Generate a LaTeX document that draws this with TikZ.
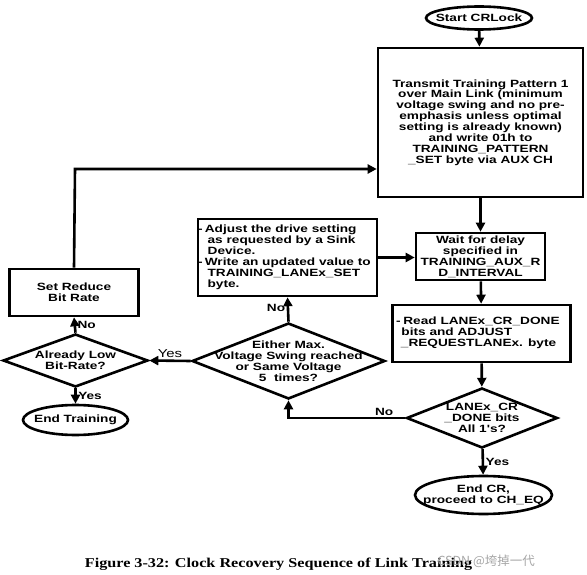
\documentclass[tikz,border=0pt]{standalone}
\usepackage{fontspec}
\usetikzlibrary{arrows.meta,shapes.geometric}
\newfontfamily\flab{Liberation Sans}[FakeStretch=1.3]
\newfontfamily\fcap{Liberation Serif}[FakeStretch=1.2]
\newfontfamily\fcjk{Noto Sans CJK SC}
\begin{document}
\begin{tikzpicture}[x=1pt,y=-1pt,
  every node/.style={font=\flab\bfseries\fontsize{10.5}{10.9}\selectfont},
  box/.style={draw,line width=2.6pt,inner sep=0pt,align=center},
  dia/.style={draw,diamond,line width=2.6pt,inner sep=0pt},
  oval/.style={draw,ellipse,line width=2.6pt,inner sep=0pt},
  txt/.style={inner sep=0pt,align=center},
  lab/.style={inner sep=1.5pt},
  arr/.style={line width=2.6pt,-{Triangle[length=9pt,width=9pt]}},
  ln/.style={line width=2.6pt}]
\useasboundingbox (0,0) rectangle (587,575);
% nodes
\node[oval,minimum width=106,minimum height=23] (start) at (479,18) {};
\node[txt] at (start) {Start CRLock};
\node[box,minimum width=205,minimum height=149] (tx) at (480.5,122.5) {Transmit Training Pattern 1\\over Main Link (minimum\\voltage swing and no pre-\\emphasis unless optimal\\setting is already known)\\and write 01h to\\TRAINING\_PATTERN\\\_SET byte via AUX CH};
\node[box,minimum width=129,minimum height=47] (wait) at (480.5,256.5) {Wait for delay\\specified in\\TRAINING\_AUX\_R\\D\_INTERVAL};
\node[box,minimum width=178,minimum height=57] (read) at (481.5,333.5) {};
\node[txt,align=left,anchor=west] (readt) at (396,333) {-\hspace{0.25em}Read LANEx\_CR\_DONE\\\hspace{0.5em}bits and ADJUST\\\hspace{0.45em}\_REQUESTLANEx. byte};
\node[dia,minimum width=151,minimum height=60] (q3) at (482,418) {};
\node[txt] at (q3) {LANEx\_CR\\\_DONE bits\\All 1's?};
\node[oval,minimum width=137,minimum height=38] (endcr) at (483.5,495) {};
\node[txt] at (endcr) {End CR,\\proceed to CH\_EQ};
\node[box,minimum width=179,minimum height=77] (adj) at (287.5,257.5) {};
\node[txt,align=left,anchor=west] (adjt) at (198,257.5) {-\hspace{0.2em}Adjust the drive setting\\\hspace{0.9em}as requested by a Sink\\\hspace{0.9em}Device.\\-\hspace{0.2em}Write an updated value to\\\hspace{0.9em}TRAINING\_LANEx\_SET\\\hspace{0.9em}byte.};
\node[dia,minimum width=193,minimum height=76] (q2) at (288.5,361) {};
\node[txt] at (q2) {Either Max.\\Voltage Swing reached\\or Same Voltage\\5\ \ times?};
\node[dia,minimum width=145,minimum height=53] (q1) at (75.5,360.5) {};
\node[txt] at (q1) {Already Low\\Bit-Rate?};
\node[box,minimum width=129,minimum height=47] (srb) at (74,292.5) {Set Reduce\\Bit Rate};
\node[oval,minimum width=105,minimum height=30] (endt) at (75.5,420) {};
\node[txt] at (endt) {End Training};
\coordinate (bend) at (75,169);
% connectors
\draw[arr] (start) -- (tx);
\draw[arr] (tx) -- (wait);
\draw[arr] (wait) -- (read);
\draw[arr] (read) -- (q3);
\draw[arr] (q3) -- node[lab,right,pos=0.5]{Yes} (endcr);
\draw[arr] (q3.west) -- node[lab,above,pos=0.18]{No} (q3.west -| q2.south) -- (q2.south);
\draw[arr] (q2.north) -- node[lab,left,pos=0.55]{No} (adj.south);
\draw[arr] (adj.east) -- (adj.east -| wait.west);
\draw[arr] (q2.west) -- node[lab,above,pos=0.5,font=\flab\fontsize{11.5}{12}\selectfont]{Yes} (q1.east);
\draw[arr] (q1.north) -- node[lab,right,pos=0.5]{No} (srb.south);
\draw[arr] (q1.south) -- node[lab,right,pos=0.5]{Yes} (endt.north);
\draw[arr] (srb.north) -- (bend) -- (bend -| tx.west);
% caption
\node[anchor=base,font=\fcap\bfseries\fontsize{13.5}{15}\selectfont] (cap) at (278.5,567) {Figure 3-32: Clock Recovery Sequence of Link Training};
\node[anchor=base west,text=black!35,font=\fcjk\fontsize{12.5}{14}\selectfont] (wm) at (434,565) {CSDN @垮掉一代};
\end{tikzpicture}
\end{document}
